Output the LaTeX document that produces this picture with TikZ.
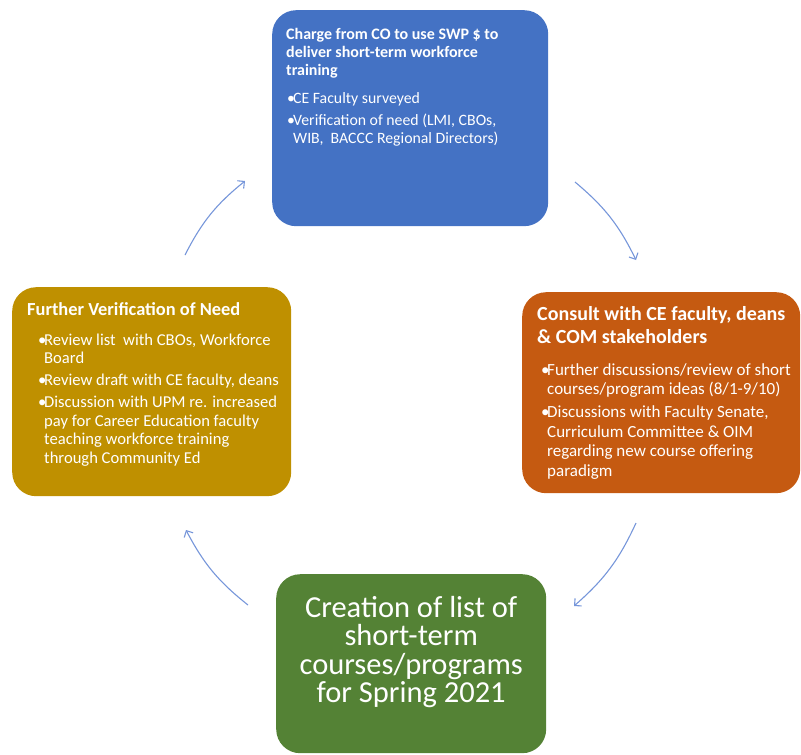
\documentclass[tikz,border=0pt]{standalone}
\usepackage{fontspec}
\setmainfont{Carlito}
\usetikzlibrary{arrows.meta}
\definecolor{chargeblue}{RGB}{68,114,196}
\definecolor{consultorange}{RGB}{197,90,17}
\definecolor{verifygold}{RGB}{191,144,0}
\definecolor{creategreen}{RGB}{84,130,53}
\definecolor{cycleblue}{RGB}{118,150,218}

% bullet line with hanging indent, left indent as option
\newcommand{\bul}[2][0pt]{\par\leftskip=#1\relax\hangindent=6pt\hangafter=1\makebox[6pt][l]{\textbullet}#2}

\begin{document}
\begin{tikzpicture}[
			x=1pt, y=-1pt,
			stepbox/.style={rounded corners=24pt, text=white, inner sep=0pt, anchor=north west},
			cyclearrow/.style={draw=cycleblue, line width=1.1pt, -{Straight Barb[length=5pt,width=10pt]}}
		]

		\useasboundingbox (0,0) rectangle (801,755);

		\node (charge) [stepbox, fill=chargeblue] at (272,10) {\parbox[c][216pt][t]{276pt}{\fontsize{15.8}{18.3}\selectfont
			\leftskip=14pt\rule{0pt}{29pt}{\fontsize{16}{18.3}\selectfont\bfseries Charge from CO to use SWP \$ to\\deliver short-term workforce\\training\par}\vspace{6pt}
			\setlength{\parskip}{3.4pt}
			\bul[15pt]{CE Faculty surveyed}
			\bul[15pt]{Verification of need (LMI, CBOs,\\WIB, \ BACCC Regional Directors)}}};

		\node (consult) [stepbox, fill=consultorange] at (522,292) {\parbox[c][201pt][t]{278pt}{\fontsize{17}{19.5}\selectfont
			\leftskip=15pt\rule{0pt}{28pt}{\fontsize{20}{23}\selectfont\bfseries Consult with CE faculty, deans\\\& COM stakeholders\par}\vspace{9pt}
			\setlength{\parskip}{3.5pt}
			\bul[19pt]{Further discussions/review of short\\courses/program ideas (8/1-9/10)}
			\bul[19pt]{Discussions with Faculty Senate,\\Curriculum Committee \& OIM\\regarding new course offering\\paradigm}}};

		\node (create) [stepbox, fill=creategreen] at (276,574) {\parbox[c][179pt][t]{270pt}{\centering\fontsize{30.5}{28.4}\selectfont
			\rule{0pt}{43pt}Creation of list of\\short-term\\courses/programs\\for Spring 2021}};

		\node (verify) [stepbox, fill=verifygold] at (12,287) {\parbox[c][209pt][t]{279pt}{\fontsize{16.6}{18.5}\selectfont
			\leftskip=15pt\rule{0pt}{28pt}{\fontsize{18.4}{18.5}\selectfont\bfseries Further Verification of Need\par}\vspace{8pt}
			\setlength{\parskip}{3.5pt}
			\bul[26pt]{Review list \ with CBOs, Workforce\\Board}
			\bul[26pt]{Review draft with CE faculty, deans}
			\bul[26pt]{Discussion with UPM re. increased\\pay for Career Education faculty\\teaching workforce training\\through Community Ed}}};

		% arrow ends, floating between the boxes
		\coordinate (verifyout) at (185,255);
		\coordinate (chargein) at (245,181);
		\coordinate (chargeout) at (575,182);
		\coordinate (consultin) at (636,260);
		\coordinate (consultout) at (636,523);
		\coordinate (createin) at (574,606);
		\coordinate (createout) at (248,605);
		\coordinate (verifyin) at (186,530);

		\draw[cyclearrow] (verifyout) to[bend left=12] (chargein);
		\draw[cyclearrow] (chargeout) to[bend left=12] (consultin);
		\draw[cyclearrow] (consultout) to[bend left=12] (createin);
		\draw[cyclearrow] (createout) to[bend left=12] (verifyin);

	\end{tikzpicture}
\end{document}
